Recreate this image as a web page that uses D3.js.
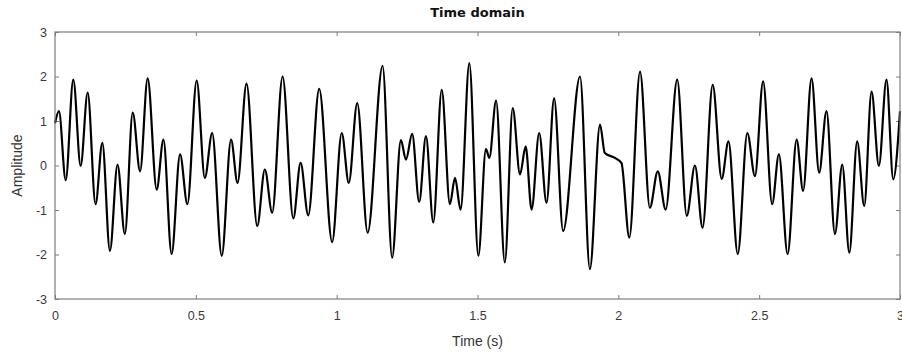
<!DOCTYPE html>
<html>
<head>
<meta charset="utf-8">
<script src="https://cdn.jsdelivr.net/npm/d3@7"></script>
<style>
  body { margin: 0; background: #fff; }
  .tick text { font-family: "Liberation Sans", Arial, sans-serif; font-size: 12.5px; fill: #3a3a3a; }
  .lbl { font-family: "Liberation Sans", Arial, sans-serif; font-size: 14px; fill: #333; }
  .title { font-family: "DejaVu Sans", sans-serif; font-size: 13px; font-weight: bold; fill: #111; }
</style>
</head>
<body>
<div id="chart"></div>
<script>
// peaks / troughs (time in s, amplitude)
const times = [0, 0.014, 0.038, 0.065, 0.091, 0.116, 0.144, 0.168, 0.195, 0.222,
	0.248, 0.276, 0.302, 0.329, 0.361, 0.385, 0.414, 0.444, 0.470, 0.503,
	0.532, 0.558, 0.592, 0.625, 0.648, 0.680, 0.718, 0.745, 0.771, 0.808,
	0.846, 0.872, 0.899, 0.938, 0.984, 1.018, 1.043, 1.073, 1.110, 1.163,
	1.197, 1.228, 1.246, 1.268, 1.293, 1.317, 1.343, 1.373, 1.402, 1.420,
	1.440, 1.471, 1.503, 1.530, 1.542, 1.566, 1.597, 1.625, 1.651, 1.671,
	1.692, 1.719, 1.745, 1.772, 1.804, 1.864, 1.899, 1.935, 1.952, 1.988,
	2.011, 2.039, 2.077, 2.112, 2.140, 2.168, 2.209, 2.243, 2.272, 2.299,
	2.335, 2.367, 2.391, 2.424, 2.458, 2.485, 2.514, 2.546, 2.570, 2.601,
	2.633, 2.656, 2.686, 2.713, 2.739, 2.769, 2.795, 2.820, 2.848, 2.873,
	2.899, 2.925, 2.952, 2.976, 3.0];

const amplitude = [0.95, 1.22, -0.33, 1.93, -0.01, 1.64, -0.87, 0.51, -1.92, 0.02,
	-1.54, 1.19, -0.13, 1.96, -0.54, 0.58, -1.99, 0.25, -0.87, 1.91,
	-0.28, 0.73, -2.03, 0.58, -0.39, 1.84, -1.36, -0.09, -1.06, 2.0,
	-1.19, 0.06, -1.12, 1.72, -1.72, 0.73, -0.39, 1.40, -1.51, 2.24,
	-2.07, 0.57, 0.13, 0.71, -0.82, 0.66, -1.28, 1.70, -0.87, -0.28,
	-0.99, 2.30, -2.03, 0.37, 0.17, 1.46, -2.18, 1.29, -0.20, 0.43,
	-0.99, 0.73, -0.84, 1.51, -1.47, 2.0, -2.33, 0.92, 0.28, 0.17,
	0.06, -1.62, 2.11, -0.95, -0.13, -0.99, 1.93, -1.13, 0.0, -1.40,
	1.81, -0.30, 0.54, -1.99, 0.73, -0.24, 1.89, -0.87, 0.25, -1.99,
	0.58, -0.57, 1.96, -0.16, 1.22, -1.54, 0.02, -1.96, 0.54, -0.91,
	1.66, -0.01, 1.93, -0.31, 1.22];

const xTicks = [0, 0.5, 1, 1.5, 2, 2.5, 3];
const yTicks = [-3, -2, -1, 0, 1, 2, 3];

const W = 902, H = 352;
const margin = { top: 32, right: 2, bottom: 53, left: 55 };
const width = W - margin.left - margin.right;
const height = H - margin.top - margin.bottom;

const svg = d3.select("#chart").append("svg")
	.attr("width", W)
	.attr("height", H);

const g = svg.append("g")
	.attr("transform", `translate(${margin.left},${margin.top})`);

const x = d3.scaleLinear().domain([0, 3]).range([0, width]);
const y = d3.scaleLinear().domain([-3, 3]).range([height, 0]);

const data = times.map((t, i) => ({ t: t, v: amplitude[i] }));

// axes, ticks pointing inwards like matlab
const axColor = "#7d7d7d";
const fmt = d => String(d);

const xb = g.append("g").attr("transform", `translate(0,${height})`)
	.call(d3.axisBottom(x).tickValues(xTicks).tickSize(-4).tickPadding(12).tickFormat(fmt));
const xt = g.append("g")
	.call(d3.axisTop(x).tickValues(xTicks).tickSize(-4).tickFormat(""));
const yl = g.append("g")
	.call(d3.axisLeft(y).tickValues(yTicks).tickSize(-4).tickPadding(8).tickFormat(fmt));
const yr = g.append("g").attr("transform", `translate(${width},0)`)
	.call(d3.axisRight(y).tickValues(yTicks).tickSize(-4).tickFormat(""));

[xb, xt, yl, yr].forEach(a => {
	a.select(".domain").remove();
	a.selectAll(".tick line").attr("stroke", axColor);
});

// signal
const line = d3.line()
	.x(d => x(d.t))
	.y(d => y(d.v))
	.curve(d3.curveMonotoneX);

g.append("path")
	.datum(data)
	.attr("fill", "none")
	.attr("stroke", "#000")
	.attr("stroke-width", 2.2)
	.attr("stroke-linejoin", "round")
	.attr("d", line);

// box
g.append("rect")
	.attr("x", 0).attr("y", 0)
	.attr("width", width).attr("height", height)
	.attr("fill", "none")
	.attr("stroke", axColor)
	.attr("stroke-width", 1.2);

svg.append("text")
	.attr("class", "title")
	.attr("x", margin.left + width / 2)
	.attr("y", 17)
	.attr("text-anchor", "middle")
	.text("Time domain");

svg.append("text")
	.attr("class", "lbl")
	.attr("x", margin.left + width / 2)
	.attr("y", 346)
	.attr("text-anchor", "middle")
	.text("Time (s)");

svg.append("text")
	.attr("class", "lbl")
	.attr("transform", `translate(22,${margin.top + height / 2}) rotate(-90)`)
	.attr("text-anchor", "middle")
	.text("Amplitude");
</script>
</body>
</html>
